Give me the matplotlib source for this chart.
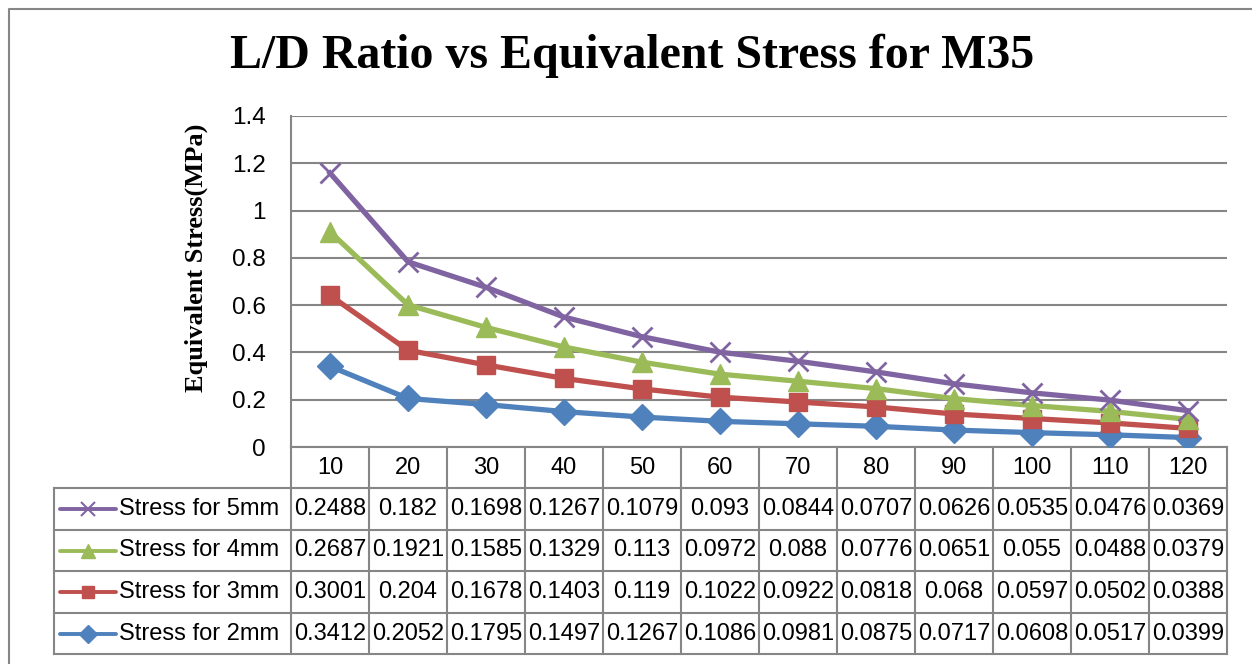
import matplotlib
matplotlib.use("Agg")
import matplotlib.pyplot as plt
import numpy as np
from matplotlib.lines import Line2D
from matplotlib import transforms

# data (Excel stacked line chart: each series sits on top of the ones below)
ld_ratio = ["10", "20", "30", "40", "50", "60", "70", "80", "90", "100", "110", "120"]
stress_2mm = [0.3412, 0.2052, 0.1795, 0.1497, 0.1267, 0.1086, 0.0981, 0.0875, 0.0717, 0.0608, 0.0517, 0.0399]
stress_3mm = [0.3001, 0.204, 0.1678, 0.1403, 0.119, 0.1022, 0.0922, 0.0818, 0.068, 0.0597, 0.0502, 0.0388]
stress_4mm = [0.2687, 0.1921, 0.1585, 0.1329, 0.113, 0.0972, 0.088, 0.0776, 0.0651, 0.055, 0.0488, 0.0379]
stress_5mm = [0.2488, 0.182, 0.1698, 0.1267, 0.1079, 0.093, 0.0844, 0.0707, 0.0626, 0.0535, 0.0476, 0.0369]
y_ticks = [0, 0.2, 0.4, 0.6, 0.8, 1, 1.2, 1.4]

series = [
    ("Stress for 2mm", stress_2mm, "#4F81BD", "D", 13),
    ("Stress for 3mm", stress_3mm, "#C0504D", "s", 13.5),
    ("Stress for 4mm", stress_4mm, "#9BBB59", "^", 15),
    ("Stress for 5mm", stress_5mm, "#8064A2", "x", 15),
]

W, H = 1252, 664
GRID = "#868686"
SANS = ["Liberation Sans", "DejaVu Sans"]
SERIF = ["Liberation Serif", "DejaVu Serif"]


def fx(x):
    return x / W


def fy(y):
    return 1 - y / H


fig = plt.figure(figsize=(W / 100, H / 100), dpi=100)
ax = fig.add_axes([fx(291), fy(447), fx(936), 331 / H])

x = np.arange(len(ld_ratio))
base = np.zeros(len(ld_ratio))
for name, vals, color, marker, ms in series:
    base = base + np.array(vals)
    mew = 2 if marker == "x" else 1
    ax.plot(x, base, color=color, lw=3.8, marker=marker, ms=ms, mew=mew,
            mec=color, mfc=color, solid_joinstyle="round", zorder=3)

ax.set_xlim(-0.5, len(ld_ratio) - 0.5)
ax.set_ylim(0, 1.4)
ax.set_yticks(y_ticks)
ax.set_yticklabels(["0", "0.2", "0.4", "0.6", "0.8", "1", "1.2", "1.4"], family=SANS)
ax.tick_params(axis="y", length=0, pad=18, labelsize=17.5)
ax.set_xticks([])
ax.grid(axis="y", color=GRID, lw=1.5)
ax.set_axisbelow(True)
for side in ["top", "right"]:
    ax.spines[side].set_visible(False)
for side in ["left", "bottom"]:
    ax.spines[side].set_color(GRID)
    ax.spines[side].set_linewidth(1.5)

# title and y label
fig.text(0.505, fy(56), "L/D Ratio vs Equivalent Stress for M35", family=SERIF,
         weight="bold", fontsize=34.5, ha="center", va="center")
fig.text(fx(196), fy(258), "Equivalent Stress(MPa)", family=SERIF, weight="bold",
         fontsize=19, rotation=90, ha="center", va="center")

# data table below the plot
blend = transforms.blended_transform_factory(ax.transData, fig.transFigure)
row_edges = [447, 488, 530, 571, 613, 654]
col_edges = np.arange(len(ld_ratio) + 1) - 0.5

for i, lab in enumerate(ld_ratio):
    ax.text(i, fy((row_edges[0] + row_edges[1]) / 2), lab, transform=blend,
            ha="center", va="center", family=SANS, fontsize=17)

for r, (name, vals, color, marker, ms) in enumerate(reversed(series)):
    yc = fy((row_edges[r + 1] + row_edges[r + 2]) / 2)
    for i, v in enumerate(vals):
        ax.text(i, yc, f"{v:g}", transform=blend, ha="center", va="center",
                family=SANS, fontsize=17)
    fig.add_artist(Line2D([fx(60), fx(116)], [yc, yc], color=color, lw=2.8,
                          solid_capstyle="round", transform=fig.transFigure))
    mew = 1.5 if marker == "x" else 1
    fig.add_artist(Line2D([fx(88)], [yc], marker=marker, ms=ms * 0.68, mew=mew, mec=color,
                          mfc=color, color=color, transform=fig.transFigure))
    fig.text(fx(119), yc, name, family=SANS, fontsize=17, ha="left", va="center")

for ce in col_edges:
    ax.plot([ce, ce], [fy(row_edges[0]), fy(row_edges[-1])], transform=blend,
            color=GRID, lw=1.5, clip_on=False)
for re_ in row_edges[1:]:
    fig.add_artist(Line2D([fx(54), fx(1227)], [fy(re_), fy(re_)], color=GRID, lw=1.5,
                          transform=fig.transFigure))
fig.add_artist(Line2D([fx(54), fx(54)], [fy(row_edges[1]), fy(row_edges[-1])],
                      color=GRID, lw=1.5, transform=fig.transFigure))

# outer chart frame (only left and top edges are inside the crop)
fig.add_artist(Line2D([fx(9), fx(9), fx(1252)], [0, fy(9), fy(9)], color=GRID, lw=1.5,
                      transform=fig.transFigure))

fig.savefig("out.png", dpi=100)
